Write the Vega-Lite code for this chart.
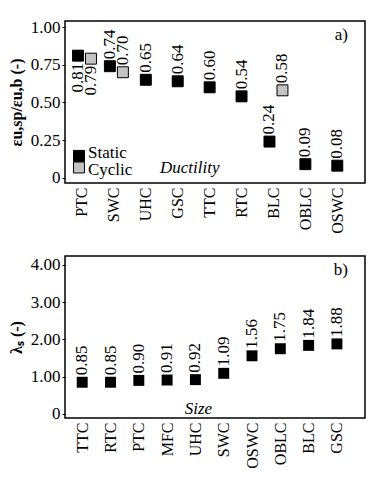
{
  "$schema": "https://vega.github.io/schema/vega-lite/v6.json",
  "padding": {"left": 7, "top": 17, "right": 7, "bottom": 0},
  "config": {
    "font": "Liberation Serif",
    "view": {"stroke": "black", "strokeWidth": 1.5},
    "text": {"font": "Liberation Serif"},
    "axis": {"labelFont": "Liberation Serif", "titleFont": "Liberation Serif", "labelColor": "black", "titleColor": "black", "domain": false, "grid": false, "tickColor": "black"},
    "concat": {"spacing": 21}
  },
  "vconcat": [
    {
      "width": 300,
      "height": 162,
      "data": {"values": [
        {"cat": "PTC", "series": "Static", "value": 0.81, "label": "0.81", "pair": true},
        {"cat": "SWC", "series": "Static", "value": 0.74, "label": "0.74", "pair": true},
        {"cat": "UHC", "series": "Static", "value": 0.65, "label": "0.65", "pair": false},
        {"cat": "GSC", "series": "Static", "value": 0.64, "label": "0.64", "pair": false},
        {"cat": "TTC", "series": "Static", "value": 0.60, "label": "0.60", "pair": false},
        {"cat": "RTC", "series": "Static", "value": 0.54, "label": "0.54", "pair": false},
        {"cat": "BLC", "series": "Static", "value": 0.24, "label": "0.24", "pair": true},
        {"cat": "OBLC", "series": "Static", "value": 0.09, "label": "0.09", "pair": false},
        {"cat": "OSWC", "series": "Static", "value": 0.08, "label": "0.08", "pair": false},
        {"cat": "PTC", "series": "Cyclic", "value": 0.79, "label": "0.79", "pair": true},
        {"cat": "SWC", "series": "Cyclic", "value": 0.70, "label": "0.70", "pair": true},
        {"cat": "BLC", "series": "Cyclic", "value": 0.58, "label": "0.58", "pair": true}
      ]},
      "encoding": {
        "x": {"field": "cat", "type": "nominal",
          "scale": {"type": "point", "domain": ["PTC", "SWC", "UHC", "GSC", "TTC", "RTC", "BLC", "OBLC", "OSWC"], "padding": 0.7, "align": 0.38},
          "axis": {"title": null, "labelAngle": -90, "labelFontSize": 16, "ticks": false, "labelPadding": 4}},
        "y": {"field": "value", "type": "quantitative",
          "scale": {"domain": [-0.035, 1.04], "nice": false, "zero": false},
          "axis": {"title": "εu,sp/εu,b (-)", "titleFontSize": 16, "titleFontWeight": "bold", "titlePadding": 6, "values": [0, 0.25, 0.5, 0.75, 1], "labelExpr": "datum.value == 0 ? '0' : format(datum.value, '.2f')", "labelFontSize": 17, "tickSize": 3, "labelPadding": 2}}
      },
      "layer": [
        {
          "transform": [{"filter": "datum.series == 'Static' && !datum.pair"}],
          "mark": {"type": "square", "size": 120, "opacity": 1, "stroke": "black", "strokeWidth": 1},
          "encoding": {"color": {"field": "series", "type": "nominal", "scale": {"domain": ["Static", "Cyclic"], "range": ["black", "#c4c4c4"]}, "legend": null}}
        },
        {
          "transform": [{"filter": "datum.series == 'Static' && datum.pair"}],
          "mark": {"type": "square", "size": 120, "opacity": 1, "stroke": "black", "strokeWidth": 1},
          "encoding": {"color": {"field": "series", "type": "nominal"}, "xOffset": {"value": -4}}
        },
        {
          "transform": [{"filter": "datum.series == 'Cyclic'"}],
          "mark": {"type": "square", "size": 120, "opacity": 1, "stroke": "black", "strokeWidth": 1},
          "encoding": {"color": {"field": "series", "type": "nominal"}, "xOffset": {"value": 9}}
        },
        {
          "transform": [{"filter": "datum.series == 'Static' && !datum.pair"}],
          "mark": {"type": "text", "font": "Liberation Serif", "angle": 270, "align": "left", "baseline": "middle", "dx": 7, "fontSize": 17, "color": "black"},
          "encoding": {"text": {"field": "label"}}
        },
        {
          "transform": [{"filter": "datum.series == 'Static' && datum.pair && datum.cat != 'PTC'"}],
          "mark": {"type": "text", "font": "Liberation Serif", "angle": 270, "align": "left", "baseline": "middle", "dx": 7, "fontSize": 17, "color": "black"},
          "encoding": {"text": {"field": "label"}, "xOffset": {"value": -4}}
        },
        {
          "transform": [{"filter": "datum.series == 'Static' && datum.cat == 'PTC'"}],
          "mark": {"type": "text", "font": "Liberation Serif", "angle": 270, "align": "right", "baseline": "middle", "dx": -7, "fontSize": 17, "color": "black"},
          "encoding": {"text": {"field": "label"}, "xOffset": {"value": -4}}
        },
        {
          "transform": [{"filter": "datum.series == 'Cyclic' && datum.cat != 'PTC'"}],
          "mark": {"type": "text", "font": "Liberation Serif", "angle": 270, "align": "left", "baseline": "middle", "dx": 7, "fontSize": 17, "color": "black"},
          "encoding": {"text": {"field": "label"}, "xOffset": {"value": 9}}
        },
        {
          "transform": [{"filter": "datum.series == 'Cyclic' && datum.cat == 'PTC'"}],
          "mark": {"type": "text", "font": "Liberation Serif", "angle": 270, "align": "right", "baseline": "middle", "dx": -7, "fontSize": 17, "color": "black"},
          "encoding": {"text": {"field": "label"}, "xOffset": {"value": 9}}
        },
        {
          "data": {"values": [
            {"cat": "PTC", "value": 0.145, "series": "Static"},
            {"cat": "PTC", "value": 0.068, "series": "Cyclic"}
          ]},
          "mark": {"type": "square", "size": 120, "opacity": 1, "stroke": "black", "strokeWidth": 1},
          "encoding": {"color": {"field": "series", "type": "nominal"}, "xOffset": {"value": -3}}
        },
        {
          "data": {"values": [
            {"cat": "PTC", "value": 0.165, "series": "Static"},
            {"cat": "PTC", "value": 0.05, "series": "Cyclic"}
          ]},
          "mark": {"type": "text", "font": "Liberation Serif", "align": "left", "baseline": "middle", "dx": 6, "fontSize": 17, "color": "black"},
          "encoding": {"text": {"field": "series"}}
        },
        {
          "data": {"values": [{"cat": "OSWC", "value": 0.947, "label": "a)"}]},
          "mark": {"type": "text", "font": "Liberation Serif", "align": "center", "baseline": "middle", "dx": 4, "fontSize": 17, "color": "black"},
          "encoding": {"text": {"field": "label"}}
        },
        {
          "data": {"values": [{"cat": "GSC", "value": 0.066, "label": "Ductility"}]},
          "mark": {"type": "text", "font": "Liberation Serif", "align": "center", "baseline": "middle", "dx": 12, "fontSize": 17, "fontStyle": "italic", "color": "black"},
          "encoding": {"text": {"field": "label"}}
        }
      ]
    },
    {
      "width": 300,
      "height": 162,
      "data": {"values": [
        {"cat": "TTC", "value": 0.85, "label": "0.85"},
        {"cat": "RTC", "value": 0.85, "label": "0.85"},
        {"cat": "PTC", "value": 0.90, "label": "0.90"},
        {"cat": "MFC", "value": 0.91, "label": "0.91"},
        {"cat": "UHC", "value": 0.92, "label": "0.92"},
        {"cat": "SWC", "value": 1.09, "label": "1.09"},
        {"cat": "OSWC", "value": 1.56, "label": "1.56"},
        {"cat": "OBLC", "value": 1.75, "label": "1.75"},
        {"cat": "BLC", "value": 1.84, "label": "1.84"},
        {"cat": "GSC", "value": 1.88, "label": "1.88"}
      ]},
      "encoding": {
        "x": {"field": "cat", "type": "nominal",
          "scale": {"type": "point", "domain": ["TTC", "RTC", "PTC", "MFC", "UHC", "SWC", "OSWC", "OBLC", "BLC", "GSC"], "padding": 0.8, "align": 0.38},
          "axis": {"title": null, "labelAngle": -90, "labelFontSize": 16, "ticks": false, "labelPadding": 4}},
        "y": {"field": "value", "type": "quantitative",
          "scale": {"domain": [-0.11, 4.24], "nice": false, "zero": false},
          "axis": {"title": "λₛ (-)", "titleFontSize": 16, "titleFontWeight": "bold", "titlePadding": 6, "values": [0, 1, 2, 3, 4], "labelExpr": "datum.value == 0 ? '0' : format(datum.value, '.2f')", "labelFontSize": 17, "tickSize": 3, "labelPadding": 2}}
      },
      "layer": [
        {
          "mark": {"type": "square", "size": 120, "opacity": 1, "color": "black"}
        },
        {
          "mark": {"type": "text", "font": "Liberation Serif", "angle": 270, "align": "left", "baseline": "middle", "dx": 7, "fontSize": 17, "color": "black"},
          "encoding": {"text": {"field": "label"}}
        },
        {
          "data": {"values": [{"cat": "GSC", "value": 3.86, "label": "b)"}]},
          "mark": {"type": "text", "font": "Liberation Serif", "align": "center", "baseline": "middle", "dx": 4, "fontSize": 17, "color": "black"},
          "encoding": {"text": {"field": "label"}}
        },
        {
          "data": {"values": [{"cat": "UHC", "value": 0.13, "label": "Size"}]},
          "mark": {"type": "text", "font": "Liberation Serif", "align": "center", "baseline": "middle", "dx": 3, "fontSize": 17, "fontStyle": "italic", "color": "black"},
          "encoding": {"text": {"field": "label"}}
        }
      ]
    }
  ]
}
